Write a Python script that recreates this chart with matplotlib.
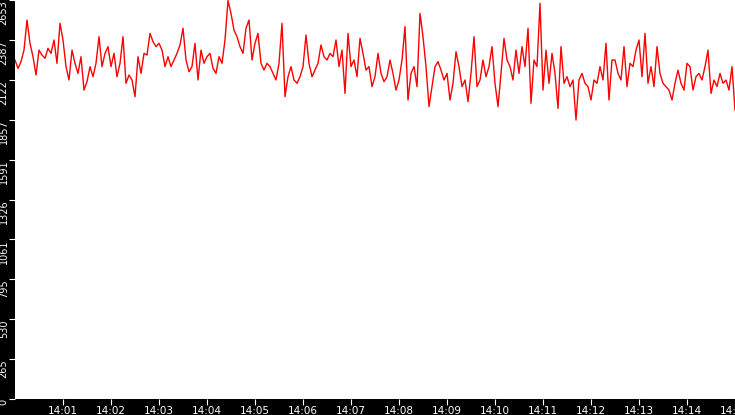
import numpy as np
import matplotlib.pyplot as plt

# samples, one every 3.75 s starting at 14:00:00
seg_1 = [2254, 2198, 2243, 2320, 2520, 2365, 2276, 2154, 2320, 2287,
         2265, 2332, 2298, 2387, 2232, 2498, 2387, 2210, 2121, 2320,
         2232, 2165, 2276, 2054, 2110, 2210, 2143, 2232, 2409, 2210,
         2298, 2343, 2210, 2298, 2143, 2232, 2409, 2099, 2154, 2121]
seg_2 = [2010, 2276, 2165, 2298, 2287, 2431, 2376, 2343, 2365, 2320,
         2210, 2276, 2210, 2254, 2298, 2354, 2465, 2254, 2176, 2210,
         2365, 2121, 2320, 2232, 2276, 2298, 2198, 2165, 2276, 2232,
         2387, 2650, 2564, 2453, 2409, 2343, 2298, 2465, 2520, 2254]
seg_3 = [2365, 2431, 2232, 2187, 2232, 2210, 2165, 2121, 2232, 2498,
         2010, 2143, 2210, 2121, 2099, 2143, 2210, 2420, 2232, 2143,
         2187, 2232, 2354, 2276, 2254, 2298, 2276, 2387, 2210, 2320,
         2032, 2431, 2210, 2254, 2143, 2398, 2298, 2187, 2210, 2077]
seg_4 = [2143, 2298, 2165, 2110, 2143, 2254, 2165, 2054, 2121, 2254,
         2476, 1988, 2165, 2210, 2077, 2564, 2409, 2210, 1944, 2077,
         2210, 2243, 2187, 2121, 2165, 1988, 2099, 2309, 2210, 2077,
         2121, 1977, 2165, 2409, 2077, 2121, 2254, 2143, 2210, 2343]
seg_5 = [2099, 1944, 2165, 2398, 2254, 2210, 2121, 2320, 2165, 2343,
         2210, 2465, 1966, 2254, 2210, 2631, 2054, 2320, 2099, 2298,
         2165, 1932, 2343, 2099, 2143, 2077, 2121, 1855, 2121, 2165,
         2099, 2077, 1988, 2121, 2099, 2210, 2121, 2365, 1988, 2254]
seg_6 = [2254, 2165, 2121, 2343, 2077, 2232, 2210, 2320, 2387, 2143,
         2431, 2099, 2210, 2077, 2343, 2165, 2099, 2077, 2054, 1988,
         2099, 2187, 2099, 2054, 2232, 2210, 2054, 2143, 2165, 2121,
         2210, 2320, 2032, 2121, 2077, 2165, 2099, 2121, 2054, 2210,
         1921]

y_ticks = [0, 265, 530, 795, 1061, 1326, 1591, 1857, 2122, 2387, 2653]
x_labels = ['14:%02d' % m for m in range(1, 16)]

values = np.array(seg_1 + seg_2 + seg_3 + seg_4 + seg_5 + seg_6)
minutes = np.arange(len(values)) * 3.75 / 60.0

fig = plt.figure(figsize=(7.35, 4.15), dpi=100, facecolor='black')
ax = fig.add_axes([15 / 735, 16 / 415, 720 / 735, 399 / 415])
ax.set_facecolor('white')
ax.plot(minutes, values, color='#ff0000', linewidth=1.0)

ax.set_xlim(0, 15)
ax.set_ylim(0, 2653)
for s in ax.spines.values():
    s.set_visible(False)

ax.set_xticks(range(1, 16))
ax.set_xticklabels(x_labels)
ax.set_yticks(y_ticks)
ax.set_yticklabels([str(v) for v in y_ticks])
ax.tick_params(axis='x', colors='white', length=4.5, width=0.8, pad=0.5, labelsize=7.5)
ax.tick_params(axis='y', colors='white', length=4, width=0.8, pad=0.5, labelsize=7)
plt.setp(ax.get_yticklabels(), rotation=90, va='top')

fig.savefig('out.png', dpi=100, facecolor='black')
